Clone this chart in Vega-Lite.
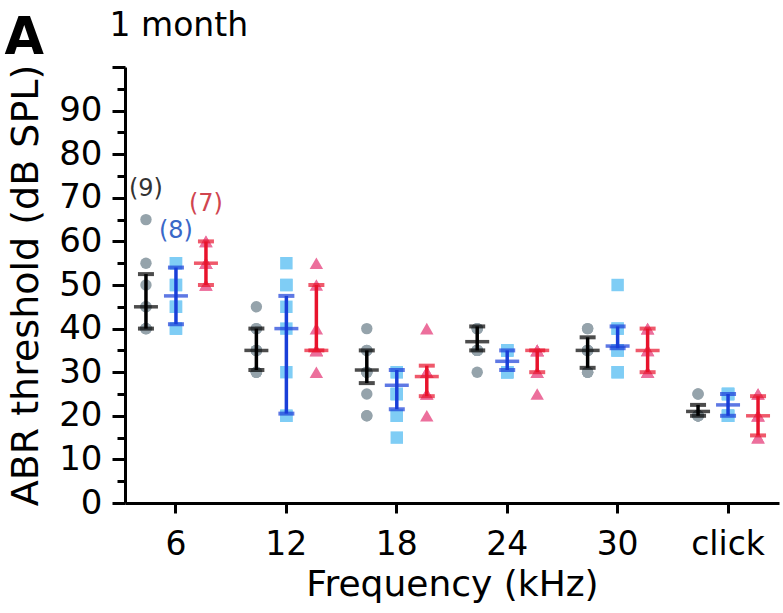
{
  "$schema": "https://vega.github.io/schema/vega-lite/v6.json",
  "width": 654,
  "height": 436,
  "autosize": {"type": "none"},
  "padding": {"left": 125, "top": 67, "right": 4, "bottom": 110},
  "config": {
    "view": {"stroke": null},
    "font": "DejaVu Sans",
    "axis": {"grid": false, "domainColor": "black", "tickColor": "black", "labelColor": "black", "titleColor": "black", "titleFontWeight": "normal"}
  },
  "datasets": {
    "points": [
      {"f":"6","g":"WT","v":65},{"f":"6","g":"WT","v":55},{"f":"6","g":"WT","v":50},{"f":"6","g":"WT","v":45},{"f":"6","g":"WT","v":45},{"f":"6","g":"WT","v":40},{"f":"6","g":"WT","v":40},{"f":"6","g":"WT","v":40},{"f":"6","g":"WT","v":40},
      {"f":"6","g":"Het","v":55},{"f":"6","g":"Het","v":55},{"f":"6","g":"Het","v":50},{"f":"6","g":"Het","v":50},{"f":"6","g":"Het","v":45},{"f":"6","g":"Het","v":45},{"f":"6","g":"Het","v":40},{"f":"6","g":"Het","v":40},
      {"f":"6","g":"KO","v":60},{"f":"6","g":"KO","v":60},{"f":"6","g":"KO","v":55},{"f":"6","g":"KO","v":55},{"f":"6","g":"KO","v":55},{"f":"6","g":"KO","v":50},{"f":"6","g":"KO","v":50},
      {"f":"12","g":"WT","v":45},{"f":"12","g":"WT","v":40},{"f":"12","g":"WT","v":40},{"f":"12","g":"WT","v":35},{"f":"12","g":"WT","v":35},{"f":"12","g":"WT","v":35},{"f":"12","g":"WT","v":30},{"f":"12","g":"WT","v":30},{"f":"12","g":"WT","v":30},
      {"f":"12","g":"Het","v":55},{"f":"12","g":"Het","v":50},{"f":"12","g":"Het","v":50},{"f":"12","g":"Het","v":45},{"f":"12","g":"Het","v":40},{"f":"12","g":"Het","v":30},{"f":"12","g":"Het","v":20},{"f":"12","g":"Het","v":20},
      {"f":"12","g":"KO","v":55},{"f":"12","g":"KO","v":50},{"f":"12","g":"KO","v":40},{"f":"12","g":"KO","v":35},{"f":"12","g":"KO","v":35},{"f":"12","g":"KO","v":35},{"f":"12","g":"KO","v":30},
      {"f":"18","g":"WT","v":40},{"f":"18","g":"WT","v":35},{"f":"18","g":"WT","v":35},{"f":"18","g":"WT","v":30},{"f":"18","g":"WT","v":30},{"f":"18","g":"WT","v":30},{"f":"18","g":"WT","v":25},{"f":"18","g":"WT","v":20},{"f":"18","g":"WT","v":20},
      {"f":"18","g":"Het","v":30},{"f":"18","g":"Het","v":30},{"f":"18","g":"Het","v":25},{"f":"18","g":"Het","v":25},{"f":"18","g":"Het","v":25},{"f":"18","g":"Het","v":20},{"f":"18","g":"Het","v":20},{"f":"18","g":"Het","v":15},
      {"f":"18","g":"KO","v":40},{"f":"18","g":"KO","v":30},{"f":"18","g":"KO","v":30},{"f":"18","g":"KO","v":30},{"f":"18","g":"KO","v":25},{"f":"18","g":"KO","v":25},{"f":"18","g":"KO","v":20},
      {"f":"24","g":"WT","v":40},{"f":"24","g":"WT","v":40},{"f":"24","g":"WT","v":40},{"f":"24","g":"WT","v":35},{"f":"24","g":"WT","v":35},{"f":"24","g":"WT","v":35},{"f":"24","g":"WT","v":35},{"f":"24","g":"WT","v":35},{"f":"24","g":"WT","v":30},
      {"f":"24","g":"Het","v":35},{"f":"24","g":"Het","v":35},{"f":"24","g":"Het","v":35},{"f":"24","g":"Het","v":35},{"f":"24","g":"Het","v":30},{"f":"24","g":"Het","v":30},{"f":"24","g":"Het","v":30},{"f":"24","g":"Het","v":30},
      {"f":"24","g":"KO","v":35},{"f":"24","g":"KO","v":35},{"f":"24","g":"KO","v":35},{"f":"24","g":"KO","v":35},{"f":"24","g":"KO","v":30},{"f":"24","g":"KO","v":30},{"f":"24","g":"KO","v":25},
      {"f":"30","g":"WT","v":40},{"f":"30","g":"WT","v":40},{"f":"30","g":"WT","v":35},{"f":"30","g":"WT","v":35},{"f":"30","g":"WT","v":35},{"f":"30","g":"WT","v":35},{"f":"30","g":"WT","v":30},{"f":"30","g":"WT","v":30},{"f":"30","g":"WT","v":30},
      {"f":"30","g":"Het","v":50},{"f":"30","g":"Het","v":40},{"f":"30","g":"Het","v":40},{"f":"30","g":"Het","v":35},{"f":"30","g":"Het","v":35},{"f":"30","g":"Het","v":35},{"f":"30","g":"Het","v":30},{"f":"30","g":"Het","v":30},
      {"f":"30","g":"KO","v":40},{"f":"30","g":"KO","v":40},{"f":"30","g":"KO","v":35},{"f":"30","g":"KO","v":35},{"f":"30","g":"KO","v":30},{"f":"30","g":"KO","v":30},{"f":"30","g":"KO","v":30},
      {"f":"click","g":"WT","v":25},{"f":"click","g":"WT","v":25},{"f":"click","g":"WT","v":20},{"f":"click","g":"WT","v":20},{"f":"click","g":"WT","v":20},{"f":"click","g":"WT","v":20},{"f":"click","g":"WT","v":20},{"f":"click","g":"WT","v":20},{"f":"click","g":"WT","v":20},
      {"f":"click","g":"Het","v":25},{"f":"click","g":"Het","v":25},{"f":"click","g":"Het","v":25},{"f":"click","g":"Het","v":25},{"f":"click","g":"Het","v":20},{"f":"click","g":"Het","v":20},{"f":"click","g":"Het","v":20},{"f":"click","g":"Het","v":20},
      {"f":"click","g":"KO","v":25},{"f":"click","g":"KO","v":25},{"f":"click","g":"KO","v":20},{"f":"click","g":"KO","v":20},{"f":"click","g":"KO","v":20},{"f":"click","g":"KO","v":15},{"f":"click","g":"KO","v":15}
    ],
    "summary": [
      {"f":"6","g":"WT","m":45,"lo":40,"hi":52.5},
      {"f":"6","g":"Het","m":47.5,"lo":41,"hi":54},
      {"f":"6","g":"KO","m":55,"lo":50,"hi":60},
      {"f":"12","g":"WT","m":35,"lo":30.5,"hi":40},
      {"f":"12","g":"Het","m":40,"lo":20.5,"hi":47.5},
      {"f":"12","g":"KO","m":35,"lo":35,"hi":50},
      {"f":"18","g":"WT","m":30.5,"lo":27.5,"hi":35},
      {"f":"18","g":"Het","m":27,"lo":21.5,"hi":30.5},
      {"f":"18","g":"KO","m":29,"lo":24.5,"hi":31.5},
      {"f":"24","g":"WT","m":37,"lo":35,"hi":40.5},
      {"f":"24","g":"Het","m":32.5,"lo":30.5,"hi":35},
      {"f":"24","g":"KO","m":35,"lo":30,"hi":35},
      {"f":"30","g":"WT","m":35,"lo":31,"hi":38},
      {"f":"30","g":"Het","m":36,"lo":35.5,"hi":40.5},
      {"f":"30","g":"KO","m":35,"lo":30,"hi":40},
      {"f":"click","g":"WT","m":21,"lo":20,"hi":22.5},
      {"f":"click","g":"Het","m":22.5,"lo":20,"hi":25},
      {"f":"click","g":"KO","m":20,"lo":15.5,"hi":24.5}
    ],
    "counts": [
      {"f":"6","g":"WT","y":72,"label":"(9)"},
      {"f":"6","g":"Het","y":62.5,"label":"(8)"},
      {"f":"6","g":"KO","y":68.5,"label":"(7)"}
    ]
  },
  "layer": [
    {
      "mark": {"type": "rule", "strokeDash": [4, 3], "strokeWidth": 2.5, "color": "#333333"},
      "encoding": {
        "y": {"datum": 95, "type": "quantitative", "scale": {"domain": [0, 100], "nice": false},
          "axis": {"orient": "left", "title": "A", "domain": false, "ticks": false, "labels": false, "titleAngle": 0, "titleX": -121, "titleY": -14, "titleAlign": "left", "titleBaseline": "alphabetic", "titleFontSize": 51, "titleFontWeight": "bold"}}
      }
    },
    {
      "data": {"name": "points"},
      "mark": {"type": "point", "filled": true, "opacity": 1},
      "encoding": {
        "x": {"field": "f", "type": "nominal", "sort": ["6","12","18","24","30","click"],
          "scale": {"type": "band", "domain": ["6","12","18","24","30","click"], "paddingInner": 0.185, "paddingOuter": 0.054},
          "axis": {"orient": "bottom", "title": "Frequency (kHz)", "labelAngle": 0, "tickSize": 10, "tickWidth": 3, "domainWidth": 3, "labelFontSize": 33, "labelPadding": 15, "titleFontSize": 36, "titlePadding": 6}},
        "xOffset": {"field": "g", "type": "nominal", "scale": {"domain": ["WT","Het","KO"]}},
        "y": {"field": "v", "type": "quantitative", "scale": {"domain": [0, 100], "nice": false},
          "axis": {"orient": "left", "title": "ABR threshold (dB SPL)", "values": [0,5,10,15,20,25,30,35,40,45,50,55,60,65,70,75,80,85,90,95,100],
            "labelExpr": "datum.value % 10 === 0 && datum.value < 100 ? datum.label : ''",
            "tickSize": {"condition": {"test": "datum.value % 10 === 0", "value": 13}, "value": 8},
            "tickWidth": 3, "domainWidth": 3, "labelFontSize": 34, "labelPadding": 10, "labelOverlap": false, "titleFontSize": 38, "titlePadding": 13}},
        "color": {"field": "g", "type": "nominal", "scale": {"domain": ["WT","Het","KO"], "range": ["#95a3ab", "#7fcdf5", "#ec6f9c"]}, "legend": null},
        "shape": {"field": "g", "type": "nominal", "scale": {"domain": ["WT","Het","KO"], "range": ["circle", "square", "triangle-up"]}, "legend": null},
        "size": {"field": "g", "type": "nominal", "scale": {"domain": ["WT","Het","KO"], "range": [130, 180, 150]}, "legend": null}
      }
    },
    {
      "data": {"name": "summary"},
      "mark": {"type": "rule", "strokeWidth": 3.5},
      "encoding": {
        "x": {"field": "f", "type": "nominal", "axis": null},
        "xOffset": {"field": "g", "type": "nominal"},
        "y": {"field": "lo", "type": "quantitative", "axis": null},
        "y2": {"field": "hi"},
        "color": {"field": "g", "type": "nominal", "scale": {"domain": ["WT","Het","KO"], "range": ["#000000", "#1a3fd8", "#e8132c"]}, "legend": null}
      }
    },
    {
      "data": {"name": "summary"},
      "mark": {"type": "tick", "size": 16, "thickness": 4},
      "encoding": {
        "x": {"field": "f", "type": "nominal", "axis": null},
        "xOffset": {"field": "g", "type": "nominal"},
        "y": {"field": "lo", "type": "quantitative", "axis": null},
        "color": {"field": "g", "type": "nominal", "scale": {"domain": ["WT","Het","KO"], "range": ["#000000", "#1a3fd8", "#e8132c"]}, "legend": null}
      }
    },
    {
      "data": {"name": "summary"},
      "mark": {"type": "tick", "size": 16, "thickness": 4},
      "encoding": {
        "x": {"field": "f", "type": "nominal", "axis": null},
        "xOffset": {"field": "g", "type": "nominal"},
        "y": {"field": "hi", "type": "quantitative", "axis": null},
        "color": {"field": "g", "type": "nominal", "scale": {"domain": ["WT","Het","KO"], "range": ["#000000", "#1a3fd8", "#e8132c"]}, "legend": null}
      }
    },
    {
      "data": {"name": "summary"},
      "mark": {"type": "tick", "size": 24, "thickness": 3.5},
      "encoding": {
        "x": {"field": "f", "type": "nominal", "axis": null},
        "xOffset": {"field": "g", "type": "nominal"},
        "y": {"field": "m", "type": "quantitative", "axis": null},
        "color": {"field": "g", "type": "nominal", "scale": {"domain": ["WT","Het","KO"], "range": ["#000000", "#1a3fd8", "#e8132c"]}, "legend": null}
      }
    },
    {
      "data": {"name": "counts"},
      "mark": {"type": "text", "fontSize": 24, "baseline": "middle", "align": "center"},
      "encoding": {
        "x": {"field": "f", "type": "nominal",
          "axis": {"orient": "top", "title": "1 month", "domain": false, "ticks": false, "labels": false, "titleX": -16, "titleY": -32, "titleAlign": "left", "titleBaseline": "alphabetic", "titleFontSize": 33, "titleFontWeight": "normal"}},
        "xOffset": {"field": "g", "type": "nominal"},
        "y": {"field": "y", "type": "quantitative", "axis": null},
        "text": {"field": "label"},
        "color": {"field": "g", "type": "nominal", "scale": {"domain": ["WT","Het","KO"], "range": ["#333333", "#3a68c8", "#d0454f"]}, "legend": null}
      }
    }
  ],
  "resolve": {"axis": {"x": "independent", "y": "independent"}, "scale": {"color": "independent"}}
}
